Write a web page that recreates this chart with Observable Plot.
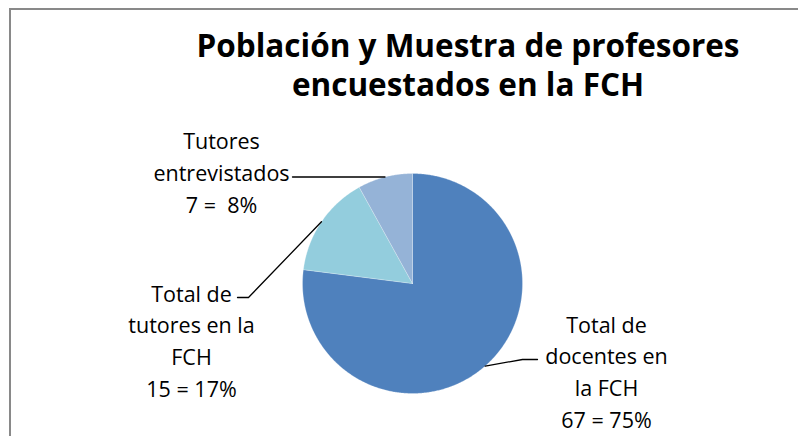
<!DOCTYPE html>
<html><head><meta charset="utf-8">
<script src="https://cdn.jsdelivr.net/npm/d3@7"></script>
<script src="https://cdn.jsdelivr.net/npm/@observablehq/plot@0.6"></script>
<style>
html,body{margin:0;padding:0;background:#fff;}
#wrap{position:relative;width:798px;height:436px;overflow:hidden;font-family:"Open Sans",sans-serif;}
#frame{position:absolute;left:9px;top:8px;width:800px;height:440px;border-top:2px solid #898989;border-left:2px solid #898989;box-sizing:border-box;}
#title{position:absolute;left:138px;width:660px;top:25px;text-align:center;font-weight:700;font-size:31.5px;line-height:39px;color:#000;}
#chart{position:absolute;left:0;top:110px;}
#chart svg text{white-space:pre;}
</style></head><body>
<div id="wrap"><div id="frame"></div><div id="title">Población y Muestra de profesores<br>encuestados en la FCH</div><div id="chart"></div></div>
<script>
// ---- data ----
const categories = ["Total de docentes en la FCH", "Total de tutores en la FCH", "Tutores entrevistados"];
const values = [67, 13, 7];
const labelTexts = ["Total de\ndocentes en\nla FCH\n67 = 75%", "Total de\ntutores en la\nFCH\n15 = 17%", "Tutores\nentrevistados\n7 =  8%"];
const colors = ["#4F81BD", "#93CDDD", "#95B3D7"];

// ---- layout (page pixels) ----
const W = 798, H = 436, TOP = 110;
const cx = 412, cy = 283, R = 110;
const labelLayout = [
  {x: 606, y: 427, elbow: [522, 359], end: [537, 359]},
  {x: 221, y: 212, elbow: null, end: [292, null]}
];
labelLayout.splice(1, 0, {x: 191, y: 396, elbow: [248, 297], end: [237, 297]});

const arcs = d3.pie().sort(null)(values);
const wedgePts = arcs.flatMap((a, i) => {
  const pts = [{cat: categories[i], x: cx, y: cy}];
  const n = Math.max(2, Math.ceil((a.endAngle - a.startAngle) / (Math.PI / 360)));
  for (let k = 0; k <= n; k++) {
    const t = a.startAngle + (a.endAngle - a.startAngle) * k / n;
    pts.push({cat: categories[i], x: cx + R * Math.sin(t), y: cy - R * Math.cos(t)});
  }
  pts.push({cat: categories[i], x: cx, y: cy});
  return pts;
});

const leaderPts = arcs.flatMap((a, i) => {
  const m = (a.startAngle + a.endAngle) / 2;
  const sx = cx + R * Math.sin(m), sy = cy - R * Math.cos(m);
  const L = labelLayout[i];
  const pts = [{id: i, x: sx, y: sy}];
  if (L.elbow) pts.push({id: i, x: L.elbow[0], y: L.elbow[1]});
  pts.push({id: i, x: L.end[0], y: L.end[1] == null ? sy : L.end[1]});
  return pts;
});

const labels = labelTexts.map((t, i) => ({text: t, x: labelLayout[i].x, y: labelLayout[i].y}));

const plot = Plot.plot({
  width: W, height: H - TOP,
  margin: 0,
  style: {fontFamily: "'Open Sans', sans-serif", background: "transparent", overflow: "visible"},
  x: {domain: [0, W], range: [0, W], axis: null},
  y: {domain: [TOP, H], range: [0, H - TOP], axis: null},
  color: {domain: categories, range: colors, legend: false},
  marks: [
    Plot.line(wedgePts, {x: "x", y: "y", z: "cat", fill: "cat", stroke: "#ffffff", strokeWidth: 0.5, strokeOpacity: 0.5}),
    Plot.line(leaderPts, {x: "x", y: "y", z: "id", stroke: "#000", strokeWidth: 1.3}),
    Plot.text(labels, {x: "x", y: "y", text: "text", textAnchor: "middle", lineAnchor: "bottom", lineHeight: 1.47, fontSize: 21.5, fill: "#000"})
  ]
});
document.getElementById("chart").appendChild(plot);
</script>
</body></html>
